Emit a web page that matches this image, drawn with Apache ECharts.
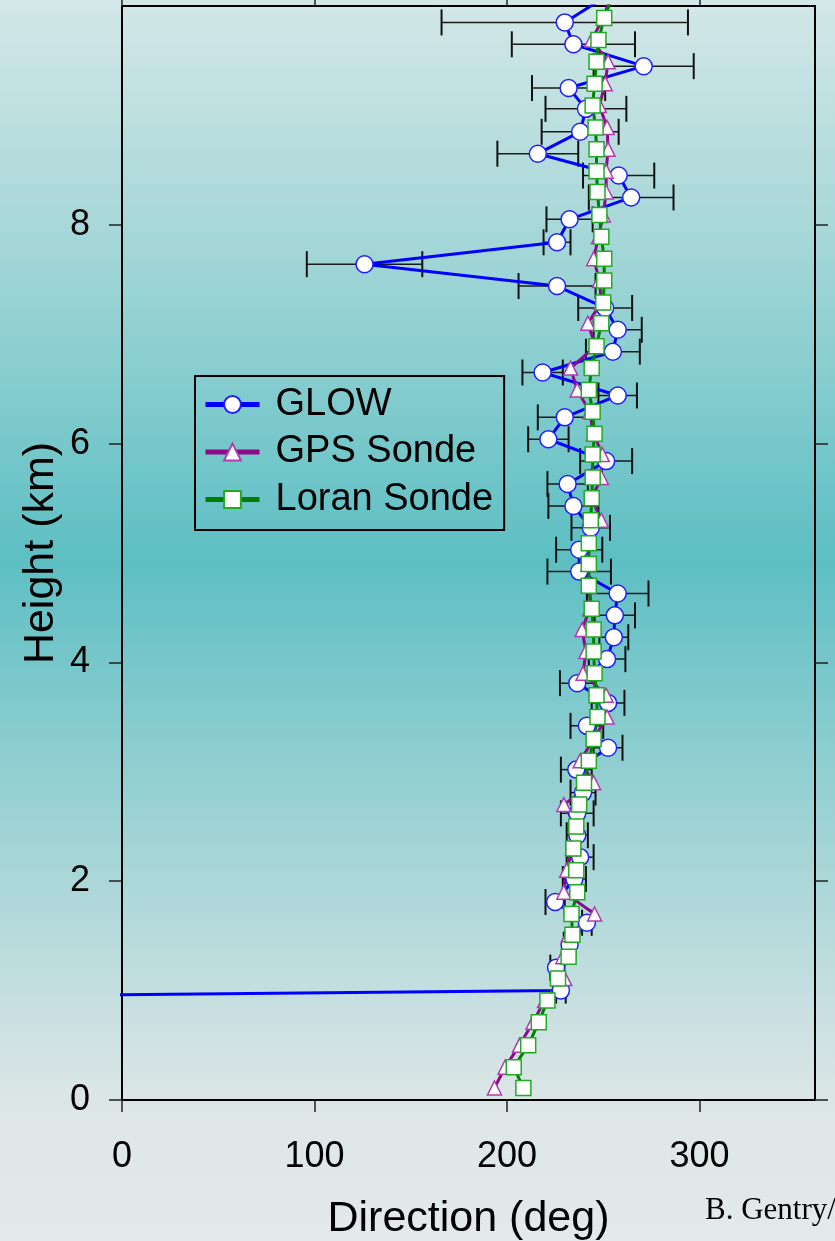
<!DOCTYPE html>
<html>
<head>
<meta charset="utf-8">
<script src="https://cdn.jsdelivr.net/npm/echarts@6/dist/echarts.min.js"></script>
<style>
  html, body { margin: 0; padding: 0; }
  #chart { width: 835px; height: 1241px; }
</style>
</head>
<body>
<div id="chart"></div>
<script>
// Wind direction profiles: GLOW lidar vs. GPS and Loran radiosondes
const xTicks = [0, 100, 200, 300];
const yTicks = [0, 2, 4, 6, 8];

// GLOW (direction in deg, height in km, half-width of error bar in deg)
const glowHeight = [10.05, 9.85, 9.65, 9.45, 9.25, 9.06, 8.85, 8.65, 8.45, 8.25,
  8.05, 7.84, 7.64, 7.44, 7.24, 7.04, 6.84, 6.65, 6.44, 6.24,
  6.04, 5.84, 5.63, 5.43, 5.23, 5.03, 4.83, 4.63, 4.43, 4.23,
  4.03, 3.81, 3.63, 3.42, 3.22, 3.02, 2.81, 2.62, 2.42, 2.22,
  2.02, 1.81, 1.62, 1.42, 1.21, 1.00, 0.80];
const glowDir = [248, 230, 234.5, 271, 232, 241, 238, 216, 258, 264.5,
  232.5, 226, 126, 226, 251, 257.5, 255, 218.5, 257.5, 230,
  221.5, 251.5, 231.5, 234.5, 243.5, 237.5, 237.5, 257.5, 256, 255.5,
  252, 236.5, 252.5, 241.5, 252.5, 236, 239.5, 236.5, 236.5, 238,
  235, 225, 241.5, 232.5, 225.5, 228, -999];
const glowErr = [null, 64, 32, 26, 19, 21, 20, 21, 18.5, 22,
  12, 7, 30, 20, 14, 12.5, 14, 10.5, 10, 14,
  10.5, 13.5, 10.5, 13, 10, 12, 16.5, 16, 10.5, 7.5,
  9.5, 9, 8.5, 8.5, 7.5, 8, 6.5, 8.5, 5.5, 7,
  6, 5, 2.5, 3, 3, 2.5, null];

// Sonde levels (km) shared by both balloon profiles
const sondeHeight = [10.09, 9.89, 9.69, 9.49, 9.29, 9.09, 8.89, 8.69, 8.49, 8.30,
  8.09, 7.89, 7.69, 7.49, 7.29, 7.10, 6.89, 6.69, 6.49, 6.29,
  6.09, 5.90, 5.69, 5.50, 5.30, 5.09, 4.90, 4.70, 4.49, 4.30,
  4.10, 3.90, 3.70, 3.50, 3.30, 3.10, 2.90, 2.70, 2.50, 2.30,
  2.10, 1.90, 1.70, 1.51, 1.31, 1.11, 0.91, 0.71, 0.50, 0.30, 0.11];
const gpsDir = [254, 250, 244, 252.5, 251, 248, 252, 252.5, 251.5, 251.5,
  250, 247.5, 245, 248, 249, 242, 246, 233, 236.5, 243,
  245, 249.5, 249, 244, 249, 243, 242, 243, 243, 239,
  241, 239.5, 251.5, 252, 245, 238, 245, 229.5, 236, 234,
  231, 229.5, 245.5, 232, 229, 230, 219.5, 213.5, 206.5, 199, 193.5];
const loranDir = [255, 250.5, 247.5, 246.5, 245.5, 244.5, 246, 246.5, 246.5, 247,
  248, 249, 250.5, 250.5, 250, 249, 246.5, 244, 242.5, 244.5,
  245.5, 244.5, 244.5, 244, 243.5, 242.5, 242.5, 242.5, 244, 245,
  245, 245.5, 246.5, 247, 245, 242.5, 240, 237.5, 236, 234.5,
  236, 236.5, 233.5, 234, 232, 226.5, 221, 216.5, 211, 203.5, 208.5];

const FONT = '"Liberation Sans", Arial, sans-serif';

const glowPts = glowDir.map((d, i) => [d, glowHeight[i]]);
const gpsPts = gpsDir.map((d, i) => [d, sondeHeight[i]]);
const loranPts = loranDir.map((d, i) => [d, sondeHeight[i]]);
const errData = [];
glowErr.forEach((e, i) => { if (e != null) errData.push([glowDir[i], glowHeight[i], e]); });

const axisLineStyle = { color: '#000', width: 2 };
const tickStyle = { color: '#222', width: 1.5 };

function errorBar(params, api) {
  const d = api.value(0), h = api.value(1), e = api.value(2);
  const lo = api.coord([d - e, h]);
  const hi = api.coord([d + e, h]);
  const cap = 13;
  const st = { stroke: '#1a1a1a', lineWidth: 1.5 };
  return {
    type: 'group',
    children: [
      { type: 'line', shape: { x1: lo[0], y1: lo[1], x2: hi[0], y2: hi[1] }, style: st },
      { type: 'line', shape: { x1: lo[0], y1: lo[1] - cap, x2: lo[0], y2: lo[1] + cap }, style: { stroke: '#111', lineWidth: 2 } },
      { type: 'line', shape: { x1: hi[0], y1: hi[1] - cap, x2: hi[0], y2: hi[1] + cap }, style: { stroke: '#111', lineWidth: 2 } }
    ]
  };
}

const chart = echarts.init(document.getElementById('chart'), null, { renderer: 'canvas' });
chart.setOption({
  animation: false,
  backgroundColor: {
    type: 'linear', x: 0, y: 0, x2: 0, y2: 1,
    colorStops: [
      { offset: 0, color: '#d3e7e7' },
      { offset: 0.19, color: '#a6d7d8' },
      { offset: 0.45, color: '#5dbfc3' },
      { offset: 0.68, color: '#a3d4d6' },
      { offset: 0.89, color: '#dde6e6' },
      { offset: 1, color: '#e4e9e9' }
    ]
  },
  grid: { left: 122, right: 20, top: 6, bottom: 141, containLabel: false, outerBoundsMode: 'none' },
  legend: {
    orient: 'vertical', left: 195, top: 376,
    data: ['GLOW', 'GPS Sonde', 'Loran Sonde'],
    itemWidth: 54, itemHeight: 21, itemGap: 9.5,
    padding: [9.5, 11, 11.5, 8],
    borderColor: '#000', borderWidth: 2,
    lineStyle: { width: 5 },
    textStyle: { fontSize: 38, color: '#000', fontFamily: FONT, padding: [0, 0, 0, 11] }
  },
  xAxis: [
    {
      type: 'value', position: 'bottom', min: 0, max: 360,
      axisLine: { show: true, onZero: false, lineStyle: axisLineStyle },
      axisTick: { show: true, inside: false, length: 12, customValues: xTicks, lineStyle: tickStyle },
      axisLabel: { customValues: xTicks, margin: 39, fontSize: 36, color: '#000', fontFamily: FONT },
      splitLine: { show: false },
      name: 'Direction (deg)', nameLocation: 'middle', nameGap: 98, nameMoveOverlap: false,
      nameTextStyle: { fontSize: 43, color: '#000', fontFamily: FONT }
    },
    {
      type: 'value', position: 'top', min: 0, max: 360,
      axisLine: { show: true, onZero: false, lineStyle: axisLineStyle },
      axisTick: { show: true, inside: false, length: 12, customValues: xTicks, lineStyle: tickStyle },
      axisLabel: { show: false },
      splitLine: { show: false }
    }
  ],
  yAxis: [
    {
      type: 'value', position: 'left', min: 0, max: 10,
      axisLine: { show: true, onZero: false, lineStyle: axisLineStyle },
      axisTick: { show: true, inside: false, length: 13, customValues: yTicks, lineStyle: tickStyle },
      axisLabel: { customValues: yTicks, margin: 32, fontSize: 36, color: '#000', fontFamily: FONT, padding: [9, 0, 0, 0] },
      splitLine: { show: false },
      name: 'Height (km)', nameLocation: 'middle', nameGap: 59, nameMoveOverlap: false,
      nameTextStyle: { fontSize: 43, color: '#000', fontFamily: FONT }
    },
    {
      type: 'value', position: 'right', min: 0, max: 10,
      axisLine: { show: true, onZero: false, lineStyle: axisLineStyle },
      axisTick: { show: true, inside: false, length: 13, customValues: yTicks, lineStyle: tickStyle },
      axisLabel: { show: false },
      splitLine: { show: false }
    }
  ],
  graphic: [
    {
      type: 'text', left: 705, top: 1195,
      style: { text: 'B. Gentry/', font: '31px "Liberation Serif", "Times New Roman", serif', fill: '#000' }
    }
  ],
  series: [
    {
      type: 'custom', name: 'GLOW error', silent: true,
      renderItem: errorBar, data: errData, encode: { x: 0, y: 1 }, clip: true
    },
    {
      type: 'line', name: 'GLOW', data: glowPts, clip: true,
      symbol: 'circle', symbolSize: 17, showAllSymbol: true,
      lineStyle: { color: '#0000ff', width: 3 },
      itemStyle: { color: '#ffffff', borderColor: '#1f1fff', borderWidth: 1.5 }
    },
    {
      type: 'line', name: 'GPS Sonde', data: gpsPts, clip: true,
      symbol: 'triangle', symbolSize: 14, showAllSymbol: true,
      lineStyle: { color: '#8b0a8b', width: 3 },
      itemStyle: { color: '#ffffff', borderColor: '#b03cb0', borderWidth: 1.5 }
    },
    {
      type: 'line', name: 'Loran Sonde', data: loranPts, clip: true,
      symbol: 'rect', symbolSize: 15, showAllSymbol: true,
      lineStyle: { color: '#008000', width: 3 },
      itemStyle: { color: '#ffffff', borderColor: '#22aa22', borderWidth: 1.5 }
    }
  ]
});
</script>
</body>
</html>
